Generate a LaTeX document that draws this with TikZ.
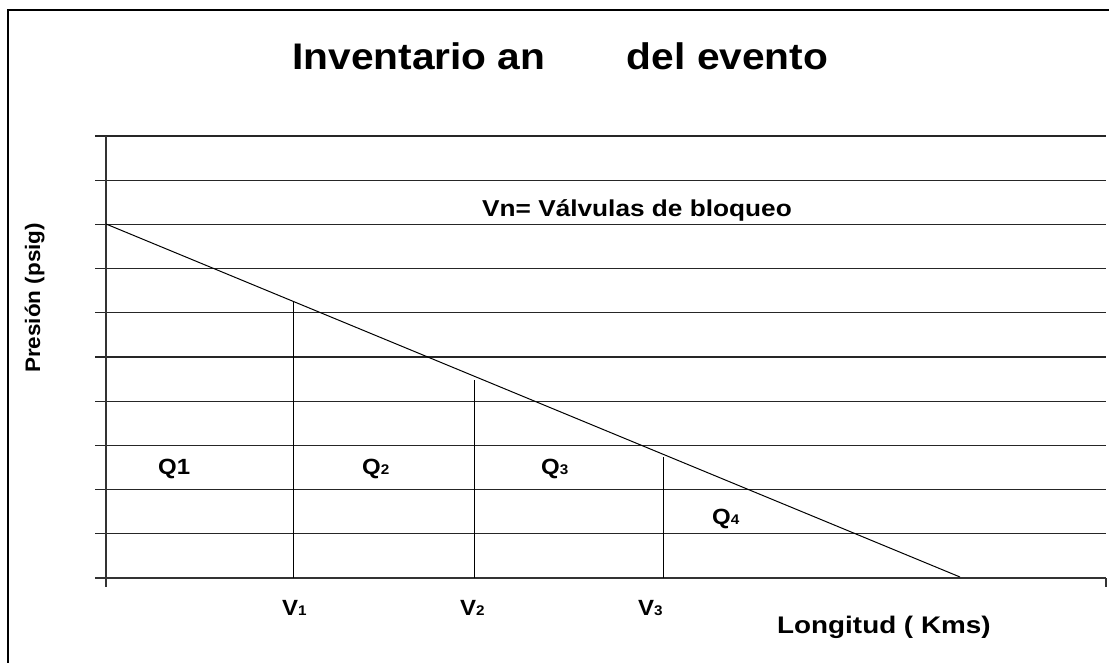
\documentclass[tikz,border=0pt]{standalone}
\usepackage{fontspec}
\setmainfont{Liberation Sans}
\usepackage{tikz}
\usepackage{xcolor}
\newcommand{\smalldigit}[1]{{\fontsize{14}{14}\selectfont #1}}
\tikzset{
    grid-line/.style = {draw=black!85, line width=1.2pt},
    axis-line/.style = {draw=black!80, line width=1.3pt},
    valve-line/.style = {draw=black, line width=1pt},
    chart-text/.style = {inner sep=0pt, anchor=base west, font=\bfseries},
}

\begin{document}
\begin{tikzpicture}[x=1pt, y=-1pt]
\useasboundingbox (0,0) rectangle (1109,663);
\draw[line width=1.6pt] (8,665) -- (8,10) -- (1111,10);

\node[chart-text] (title) at (292,70) {\scalebox{1.1}[1]{\fontsize{37}{37}\selectfont Inventario an\hspace{74pt}del evento}};

\foreach \i in {0,...,9}
    \draw[grid-line] (95,136+44.2*\i) -- (1106,136+44.2*\i);
\draw[axis-line] (95,578) -- (1106,578);
\draw[axis-line] (106,136) -- (106,587);
\draw[axis-line] (1106,578) -- (1106,587);

\coordinate (p-start) at (106,224);
\coordinate (p-end) at (960,577);
\draw[line width=1pt] (p-start) -- (p-end);

\draw[valve-line] (293,578) -- (293,302);
\draw[valve-line] (474,578) -- (474,380);
\draw[valve-line] (663,578) -- (663,457);

\node[chart-text] (legend) at (482,217) {\scalebox{1.14}[1]{\fontsize{23}{23}\selectfont Vn= Válvulas de bloqueo}};
\node[chart-text, rotate=90] (ylabel) at (40,373) {\scalebox{1.07}[1]{\fontsize{21}{21}\selectfont Presión (psig)}};
\node[chart-text] (xlabel) at (777,633) {\scalebox{1.16}[1]{\fontsize{24}{24}\selectfont Longitud ( Kms)}};

\node[chart-text] (q1) at (158,474) {\scalebox{1.09}[1]{\fontsize{22}{22}\selectfont Q1}};
\node[chart-text] (q2) at (362,474) {\scalebox{1.09}[1]{\fontsize{22}{22}\selectfont Q\smalldigit{2}}};
\node[chart-text] (q3) at (541,474) {\scalebox{1.09}[1]{\fontsize{22}{22}\selectfont Q\smalldigit{3}}};
\node[chart-text] (q4) at (712,524) {\scalebox{1.09}[1]{\fontsize{22}{22}\selectfont Q\smalldigit{4}}};

\node[chart-text] (v1) at (282,615) {\scalebox{1.09}[1]{\fontsize{22}{22}\selectfont V\smalldigit{1}}};
\node[chart-text] (v2) at (460,615) {\scalebox{1.09}[1]{\fontsize{22}{22}\selectfont V\smalldigit{2}}};
\node[chart-text] (v3) at (638,615) {\scalebox{1.09}[1]{\fontsize{22}{22}\selectfont V\smalldigit{3}}};
\end{tikzpicture}
\end{document}
